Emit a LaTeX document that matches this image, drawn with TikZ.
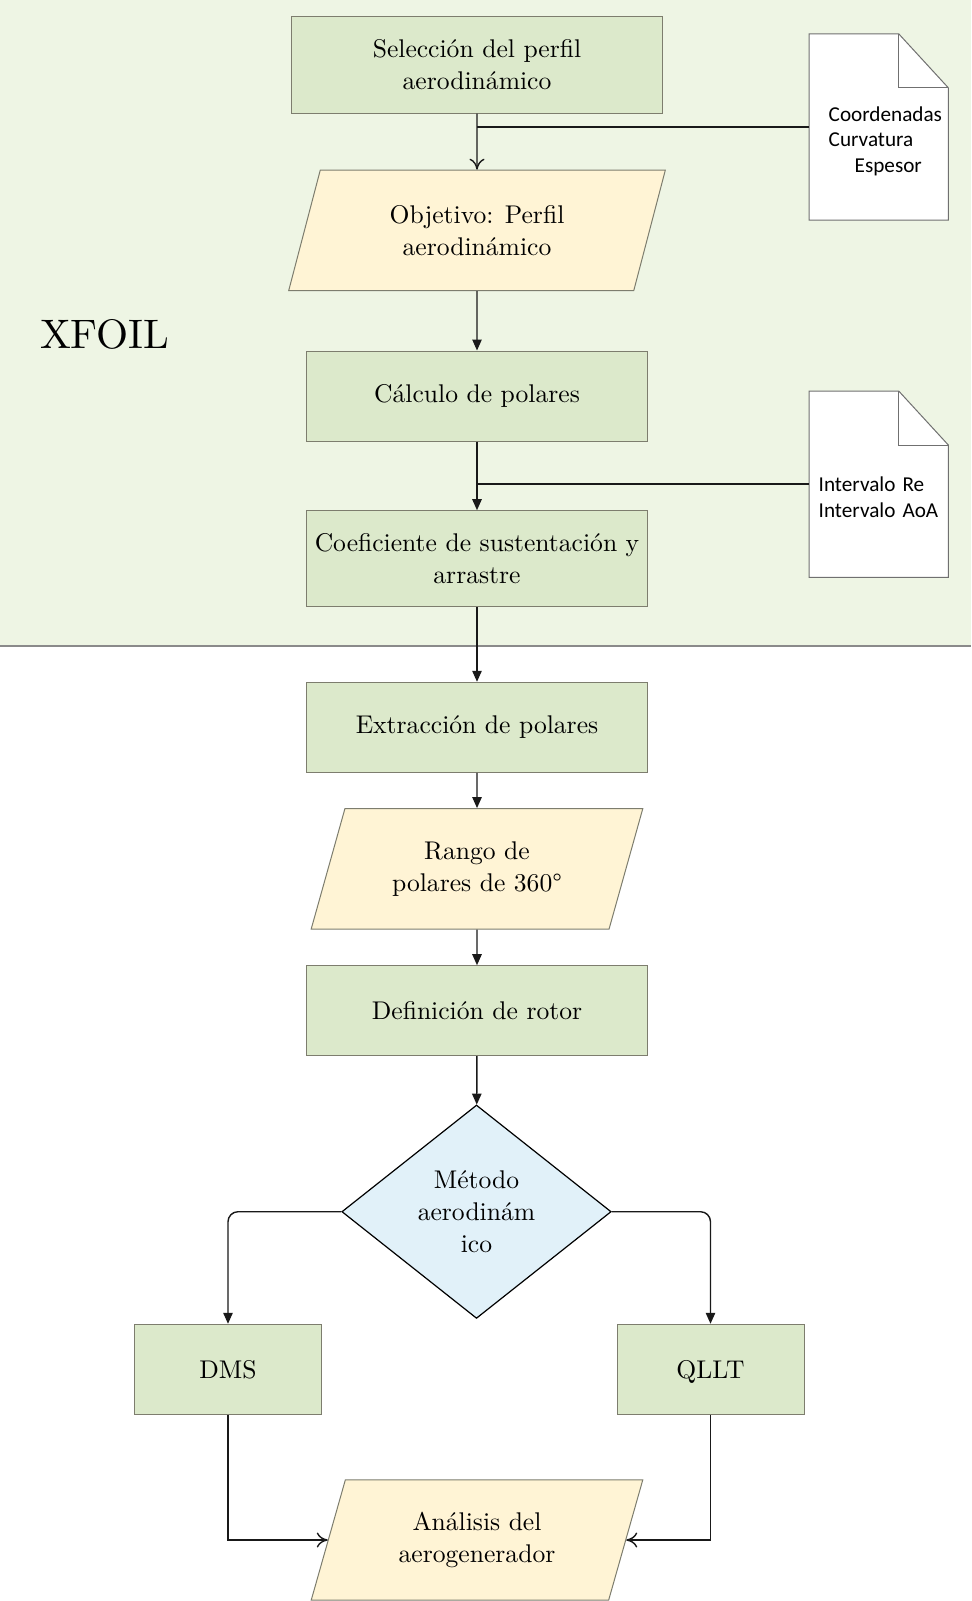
\documentclass[tikz,border=0pt]{standalone}
\usepackage{fontspec}
\usepackage{tikz}
\usetikzlibrary{positioning,shapes.geometric,arrows.meta,backgrounds}
\newfontfamily\docfont{Carlito}
\newfontfamily\xfoilfont{lmroman10-regular}[Extension=.otf]
\definecolor{bandgreen}{HTML}{EEF5E4}
\definecolor{bandline}{HTML}{8A8A8A}
\definecolor{boxgreen}{HTML}{DCE9CB}
\definecolor{boxline}{HTML}{7D7D6E}
\definecolor{ioyellow}{HTML}{FFF4D5}
\definecolor{decblue}{HTML}{E1F1F9}
\definecolor{docline}{HTML}{707070}

\begin{document}
\begin{tikzpicture}[x=0.5pt, y=-0.5pt, font=\xfoilfont\fontsize{12.8}{15.8}\selectfont,
		box_style/.style={rectangle,draw=boxline,fill=boxgreen,line width=0.5pt,align=center,minimum width=170.3pt,minimum height=45pt},
		io_style/.style={trapezium,trapezium left angle=63.5,trapezium right angle=116.5,trapezium stretches body,draw=boxline,fill=ioyellow,line width=0.5pt,align=center,minimum height=60.2pt},
		decision_style/.style={diamond,draw=black,fill=decblue,line width=0.6pt,align=center,minimum width=134.7pt,minimum height=106.7pt,inner sep=0pt},
		doc_style/.style={rectangle,minimum width=69.3pt,minimum height=92.7pt,align=left,text height=21pt,font=\docfont\fontsize{10.6}{12.7}\selectfont},
		edge_style/.style={draw=black!90,line width=0.7pt,-{Triangle[length=5.5pt,width=4.7pt]}},
		open_edge_style/.style={draw=black!90,line width=0.7pt,-{To[length=5.5pt,width=7.5pt]}},
		line_style/.style={draw=black!90,line width=0.8pt}]
		
		\useasboundingbox (0,0) rectangle (971,1601);
		
		\node[box_style,minimum width=185.5pt,minimum height=48.3pt] (sel) at (477,64.8) {Selección del perfil\\aerodinámico};
		\node[io_style,minimum width=188.3pt] (obj) at (477,230.4) {Objetivo: Perfil\\aerodinámico};
		\node[box_style] (calc) at (477,396) {Cálculo de polares};
		\node[box_style,minimum height=48pt] (coef) at (477,558.7) {Coeficiente de sustentación y\\arrastre};
		\node[box_style] (ext) at (477,727.3) {Extracción de polares};
		\node[io_style,minimum width=165.8pt] (rango) at (477,868.8) {Rango de\\polares de 360°};
		\node[box_style] (rotor) at (477,1010.7) {Definición de rotor};
		\node[decision_style] (met) at (476.5,1211.7) {Método\\aerodinám\\ico};
		\node[box_style,minimum width=93.5pt] (dms) at (228,1369.3) {DMS};
		\node[box_style,minimum width=93.5pt,text depth=0pt] (qllt) at (710.5,1369.3) {QLLT};
		\node[io_style,minimum width=165.8pt] (ana) at (477,1540) {Análisis del\\aerogenerador};
		\node[doc_style,text width=50pt,text height=21.7pt] (doc1) at (878.7,127) {Coordenadas\\Curvatura\\\hspace*{13pt}Espesor};
		\node[doc_style,text width=60pt,text height=20.2pt] (doc2) at (878.7,484.2) {Intervalo Re\\Intervalo AoA};
		\node[inner sep=0pt,font=\xfoilfont\fontsize{20.6}{24}\selectfont] (xfoil) at (104.7,334) {XFOIL};
		
		% XFOIL band and the two documents
		\begin{scope}[on background layer]
			\fill[bandgreen] (0,0) rectangle (971,646);
			\draw[bandline,line width=0.6pt] (0,646) -- (971,646);
			\foreach \d in {doc1,doc2}{
				\coordinate (\d-ne) at (\d.north -| \d.east);
				\filldraw[draw=docline,fill=white,line width=0.5pt] (\d.south west) -- (\d.north west) -- ([xshift=-24.8pt]\d-ne) -- ([yshift=-27pt]\d-ne) -- (\d.south east) -- cycle;
				\draw[docline,line width=0.5pt] ([xshift=-24.8pt]\d-ne) |- ([yshift=-27pt]\d-ne);
			}
		\end{scope}
		
		\draw[open_edge_style]  (sel) -- (obj);
		\draw[line_style]  (doc1) -- (doc1 -| sel);
		\draw[edge_style]  (obj) -- (calc);
		\draw[edge_style]  (calc) -- (coef);
		\draw[line_style]  (doc2) -- (doc2 -| calc);
		\draw[edge_style]  (coef) -- (ext);
		\draw[edge_style]  (ext) -- (rango);
		\draw[edge_style]  (rango) -- (rotor);
		\draw[edge_style]  (rotor) -- (met);
		\draw[edge_style,rounded corners=5pt]  (met) -| (dms);
		\draw[edge_style,rounded corners=5pt]  (met) -| (qllt);
		\draw[open_edge_style]  (dms) |- (ana);
		\draw[open_edge_style]  (qllt) |- (ana);
		
\end{tikzpicture}
\end{document}
